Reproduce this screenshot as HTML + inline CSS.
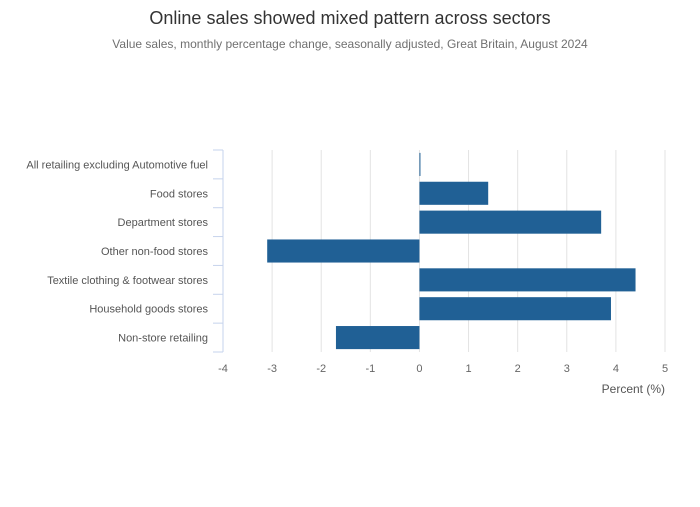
<!DOCTYPE html>
<html><head><meta charset="utf-8"><style>
body{margin:0;background:#fff;font-family:"Liberation Sans",sans-serif;}
svg text{font-family:"Liberation Sans",sans-serif;}
</style></head><body>
<svg width="700" height="502" id="c">
<text x="350" y="24" text-anchor="middle" font-size="18" fill="#333">Online sales showed mixed pattern across sectors</text>
<text x="350" y="48" text-anchor="middle" font-size="12" fill="#707070">Value sales, monthly percentage change, seasonally adjusted, Great Britain, August 2024</text>
<text x="665" y="393" text-anchor="end" font-size="12" fill="#555">Percent (%)</text>
</svg>
<script>
const categories=["All retailing excluding Automotive fuel","Food stores","Department stores","Other non-food stores","Textile clothing & footwear stores","Household goods stores","Non-store retailing"];
const values=[0.02,1.4,3.7,-3.1,4.4,3.9,-1.7];
const xTicks=[-4,-3,-2,-1,0,1,2,3,4,5];
const NS="http://www.w3.org/2000/svg";
const svg=document.getElementById('c');
const x0=223,x1=665,y0=150,y1=352,xmin=-4,xmax=5;
const xs=v=>x0+(v-xmin)/(xmax-xmin)*(x1-x0);
const band=(y1-y0)/categories.length;
function mk(t,a){const e=document.createElementNS(NS,t);for(const k in a)e.setAttribute(k,a[k]);svg.appendChild(e);return e;}
xTicks.forEach(t=>{
 if(t!==xmin){const g=mk('line',{x1:xs(t),x2:xs(t),y1:y0,y2:y1,stroke:'#e3e3e3','stroke-width':1});
 
 }
 const l=mk('text',{x:xs(t),y:y1+20,'text-anchor':'middle','font-size':11,fill:'#666'});
 l.textContent=t;
 
 
});
const ax=mk('line',{x1:x0,x2:x0,y1:y0,y2:y1,stroke:'#c6d3ec','stroke-width':1});


for(let i=0;i<=categories.length;i++){
 const tk=mk('line',{x1:x0-10,x2:x0,y1:y0+i*band,y2:y0+i*band,stroke:'#c6d3ec','stroke-width':1});
 
 
}
categories.forEach((c,i)=>{
 const cy=y0+(i+0.5)*band;
 const v=values[i];
 const a=xs(Math.min(0,v)),b=xs(Math.max(0,v));
 const r=mk('rect',{x:a,y:cy-band*0.4,width:Math.max(1,b-a),height:band*0.8,fill:'#206095'});
 
 
 const t=mk('text',{x:208,y:cy+4,'text-anchor':'end','font-size':11,fill:'#555'});
 t.textContent=c;
 
 
});
</script>
</body></html>
